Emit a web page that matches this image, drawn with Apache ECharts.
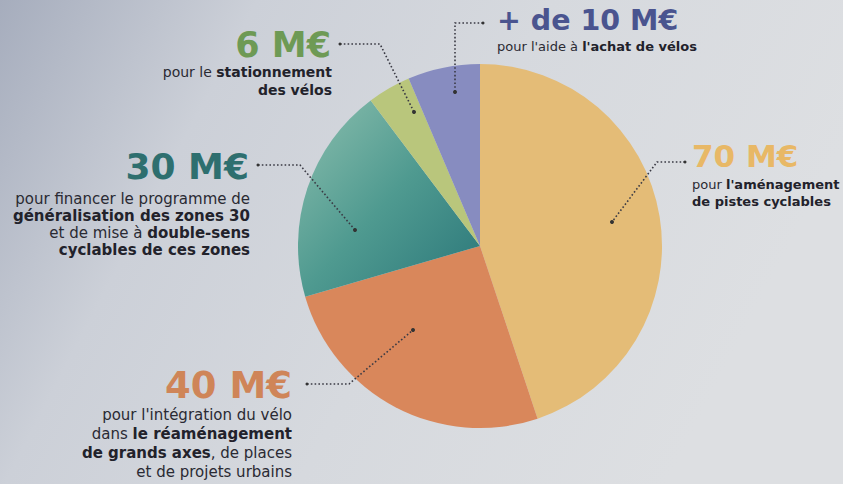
<!DOCTYPE html>
<html><head><meta charset="utf-8">
<script src="https://cdn.jsdelivr.net/npm/echarts@6/dist/echarts.min.js"></script>
<style>html,body{margin:0;padding:0;}#c{width:843px;height:484px;}</style>
</head><body><div id="c"></div>
<script>
// ---- data ----
const amounts = ['70 M€', '40 M€', '30 M€', '6 M€', '+ de 10 M€'];
const values = [70, 40, 30, 6, 10];
const descriptions = [
  "pour {b|l'aménagement}\n{b|de pistes cyclables}",
  "pour l'intégration du vélo\ndans {b|le réaménagement}\n{b|de grands axes}, de places\net de projets urbains",
  "pour financer le programme de\n{b|généralisation des zones 30}\net de mise à {b|double-sens}\n{b|cyclables de ces zones}",
  "pour le {b|stationnement}\n{b|des vélos}",
  "pour l'aide à {b|l'achat de vélos}"
];

// ---- styles / layout ----
const sliceColors = [
  '#e4bc77', '#d9875b',
  {type:'linear', x:0, y:0, x2:1, y2:1, colorStops:[{offset:0,color:'#8cbfae'},{offset:0.5,color:'#4f9a90'},{offset:1,color:'#2a7679'}]},
  '#b9c67c', '#878cc0'
];
const amountColors = ['#e8b866', '#cf8558', '#2e6f6f', '#6e9a55', '#4a548f'];
const amountSizes = [31, 37, 36, 35, 28.5];
const descSizes = [13, 15, 15, 14, 13];
const descLineHeights = [17, 19, 17, 18, 17];
// [amountX, amountY, align, descX, descTop]
const textPos = [
  [692, 156, 'left', 692, 176],
  [292, 385, 'right', 292, 405],
  [249, 166, 'right', 250, 190],
  [331, 45, 'right', 332, 63],
  [497, 20, 'left', 497, 38]
];
const leaders = [
  [[685,162],[657,162],[612,222]],
  [[307,384],[349,384],[413,330]],
  [[258,165],[300,165],[355,230]],
  [[340,44],[380,44],[414,112]],
  [[483,23],[455,23],[455,92]]
];

const FONT = 'DejaVu Sans';
const graphics = [{
  type:'rect', z:-10, shape:{x:0,y:0,width:843,height:484},
  style:{fill:{type:'linear',x:0,y:0,x2:1,y2:0.3,colorStops:[
    {offset:0,color:'#a6adbd'},{offset:0.28,color:'#ccd0d8'},{offset:0.6,color:'#d6d9de'},{offset:1,color:'#dddfe2'}]}}
}];
amounts.forEach((a,i)=>{
  const p = textPos[i];
  graphics.push({type:'text', z:10, style:{x:p[0], y:p[1], text:a, textAlign:p[2], textVerticalAlign:'middle',
    fill:amountColors[i], font:'bold '+amountSizes[i]+'px "'+FONT+'"'}});
  graphics.push({type:'text', z:10, style:{x:p[3], y:p[4], text:descriptions[i], textAlign:p[2], textVerticalAlign:'top',
    fill:'#2a2a33', font:descSizes[i]+'px "'+FONT+'"', lineHeight:descLineHeights[i],
    rich:{b:{fontWeight:'bold', fontFamily:FONT, fontSize:descSizes[i], lineHeight:descLineHeights[i], fill:'#22222b', color:'#22222b'}}}});
  const L = leaders[i];
  graphics.push({type:'polyline', z:10, shape:{points:L},
    style:{stroke:'#3a3a44', lineWidth:1.6, lineDash:[1.6,2.2], fill:null}});
  graphics.push({type:'circle', z:10, shape:{cx:L[L.length-1][0], cy:L[L.length-1][1], r:2}, style:{fill:'#333'}});
  graphics.push({type:'circle', z:10, shape:{cx:L[0][0], cy:L[0][1], r:1.5}, style:{fill:'#333'}});
});

const chart = echarts.init(document.getElementById('c'), null, {renderer:'svg'});
chart.setOption({
  animation:false,
  graphic: graphics,
  series:[{
    type:'pie', center:[480,246], radius:182, startAngle:90, clockwise:true,
    label:{show:false}, labelLine:{show:false}, silent:true,
    data: values.map((v,i)=>({name:amounts[i], value:v, itemStyle:{color:sliceColors[i]}}))
  }]
});
</script></body></html>
